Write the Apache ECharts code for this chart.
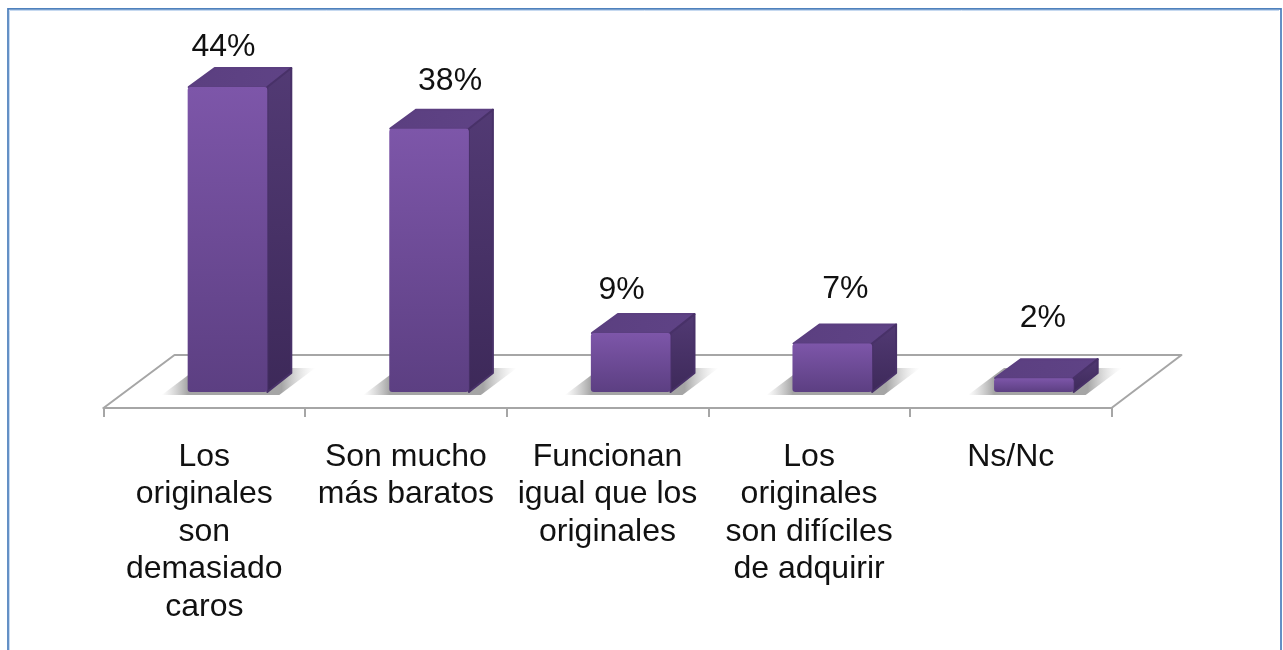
<!DOCTYPE html>
<html>
<head>
<meta charset="utf-8">
<style>html,body{margin:0;padding:0;background:#fff;overflow:hidden}#c{width:1283px;height:650px}</style>
<script src="https://cdn.jsdelivr.net/npm/echarts@6/dist/echarts.min.js"></script>
</head>
<body>
<div id="c"></div>
<script>
const categories = [
  'Los\noriginales\nson\ndemasiado\ncaros',
  'Son mucho\nmás baratos',
  'Funcionan\nigual que los\noriginales',
  'Los\noriginales\nson difíciles\nde adquirir',
  'Ns/Nc'
];
const values = [44, 38, 8.5, 7, 2];
const valueLabels = ['44%', '38%', '9%', '7%', '2%'];
const labelShiftX = [-4, 21, -9, 13, 9];
const labelShiftY = [-40, -47, -43, -54, -60];

const FONT = '32px "Liberation Sans", Arial, sans-serif';
const grad = (x, y, x2, y2, a, b) => ({type: 'linear', x, y, x2, y2, colorStops: [{offset: 0, color: a}, {offset: 1, color: b}]});
const poly = (points, fill, z2, stroke, width) => ({
  type: 'polygon', z2, shape: {points},
  style: {fill, stroke: stroke || null, lineWidth: stroke ? (width || 1.5) : 0, lineJoin: 'round'}
});
const shadowFill = {type: 'linear', x: 0, y: 0, x2: 1, y2: 0, colorStops: [
  {offset: 0, color: 'rgba(190,190,190,0)'},
  {offset: 0.17, color: 'rgba(165,165,165,1)'},
  {offset: 0.78, color: 'rgba(165,165,165,1)'},
  {offset: 1, color: 'rgba(220,220,220,0)'}
]};

function renderFloor(params) {
  const g = params.coordSys, l = g.x, r = g.x + g.width, b = g.y + g.height;
  return poly([[l, b + 16], [r, b + 16], [r + 70, b - 37], [l + 71, b - 37]], '#fff', 0, '#a6a6a6', 2);
}

function renderBar(params, api) {
  const i = api.value(0);
  const band = api.size([1, 0])[0];
  const top = api.coord([i, api.value(1)]);
  const base = api.coord([i, 0]);
  const w = band * 0.395, cx = top[0] + band * 0.115;
  const L = cx - w / 2, R = cx + w / 2, T = top[1], B = base[1];
  const dx = 24, dy = -19;
  return {
    type: 'group',
    children: [
      poly([[L - 26, B + 3], [R + 12, B + 3], [R + 48, B - 24], [L + 10, B - 24]], shadowFill, 1),
      poly([[L + 1, T], [R, T], [R + dx, T + dy], [L + dx + 3, T + dy]], grad(0, 0, 1, 1, '#5b3f80', '#5f4386'), 3, '#5b3f80', 2),
      poly([[R, T], [R + dx, T + dy], [R + dx, B + dy], [R, B]], grad(0, 0, 0, 1, '#523a74', '#3d2959'), 3, '#483168', 2),
      {type: 'rect', z2: 4, shape: {x: L, y: T, width: w, height: B - T, r: 3},
       style: {fill: grad(0, 0, 0, 1, '#7d56a9', '#5c3f82')}},
      {type: 'text', z2: 5, style: {
        text: valueLabels[i], x: cx + labelShiftX[i], y: T + labelShiftY[i],
        textAlign: 'center', textVerticalAlign: 'middle', font: FONT, fill: '#111'
      }}
    ]
  };
}

const chart = echarts.init(document.getElementById('c'), null, {renderer: 'canvas'});
chart.setOption({
  animation: false,
  backgroundColor: '#fff',
  grid: {left: 103.5, width: 1008, top: 45.5, height: 346.5},
  graphic: [{
    type: 'polyline', silent: true, z: 10,
    shape: {points: [[8, 660], [8, 8.75], [1281, 8.75], [1281, 660]]},
    style: {fill: null, stroke: '#4f81bd', lineWidth: 1.75}
  }, {
    type: 'polyline', silent: true, z: 9,
    shape: {points: [[9.5, 660], [9.5, 10.5], [1279, 10.5]]},
    style: {fill: null, stroke: '#c6d9f0', lineWidth: 1}
  }],
  xAxis: {
    type: 'category',
    data: categories,
    offset: 16,
    z: 2,
    axisLine: {show: true, onZero: false, lineStyle: {color: '#a6a6a6', width: 2}},
    axisTick: {show: true, alignWithLabel: false, length: 9, lineStyle: {color: '#a6a6a6', width: 2}},
    axisLabel: {
      interval: 0, margin: 30, color: '#111', fontSize: 32, lineHeight: 37.5,
      fontFamily: '"Liberation Sans", Arial, sans-serif', verticalAlign: 'top', hideOverlap: false
    }
  },
  yAxis: {type: 'value', min: 0, max: 50, show: false, splitLine: {show: false}},
  series: [
    {type: 'custom', z: 1, silent: true, coordinateSystem: 'cartesian2d', data: [[0, 0]], renderItem: renderFloor, encode: {x: 0, y: 1}},
    {type: 'custom', z: 3, silent: true, coordinateSystem: 'cartesian2d', data: values.map((v, i) => [i, v]), renderItem: renderBar, encode: {x: 0, y: 1}}
  ]
});
</script>
</body>
</html>
